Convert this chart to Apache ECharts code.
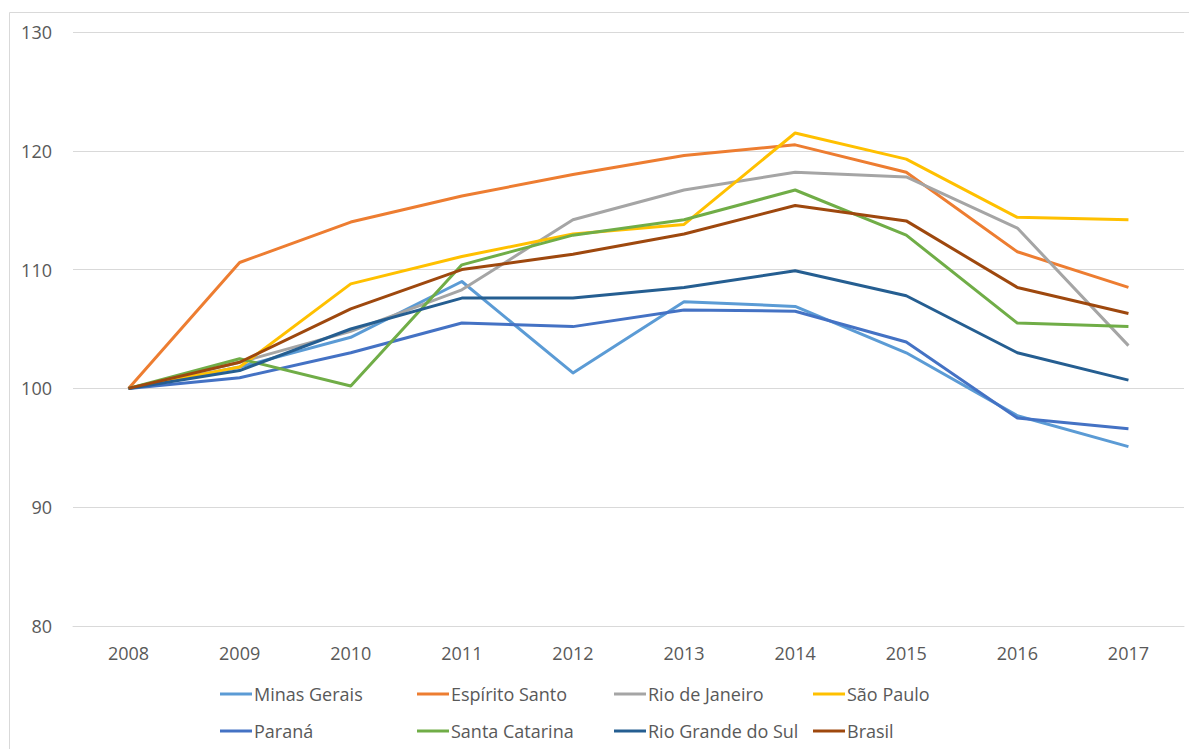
<!DOCTYPE html>
<html>
<head>
<meta charset="utf-8">
<script src="https://cdn.jsdelivr.net/npm/echarts@6/dist/echarts.min.js"></script>
<style>
  html, body { margin: 0; padding: 0; background: #fff; }
  #chart { width: 1189px; height: 749px; }
</style>
</head>
<body>
<div id="chart"></div>
<script>
(function() {
  var years = ['2008', '2009', '2010', '2011', '2012', '2013', '2014', '2015', '2016', '2017'];

  var minasGerais     = [100, 101.8, 104.3, 109.0, 101.3, 107.3, 106.9, 103.0, 97.7, 95.1];
  var espiritoSanto   = [100, 110.6, 114.0, 116.2, 118.0, 119.6, 120.5, 118.2, 111.5, 108.5];
  var rioDeJaneiro    = [100, 102.2, 104.8, 108.3, 114.2, 116.7, 118.2, 117.8, 113.5, 103.6];
  var saoPaulo        = [100, 101.8, 108.8, 111.1, 113.0, 113.8, 121.5, 119.3, 114.4, 114.2];
  var parana          = [100, 100.9, 103.0, 105.5, 105.2, 106.6, 106.5, 103.9, 97.5, 96.6];
  var santaCatarina   = [100, 102.5, 100.2, 110.4, 112.9, 114.2, 116.7, 112.9, 105.5, 105.2];
  var rioGrandeDoSul  = [100, 101.5, 105.0, 107.6, 107.6, 108.5, 109.9, 107.8, 103.0, 100.7];
  var brasil          = [100, 102.2, 106.7, 110.0, 111.3, 113.0, 115.4, 114.1, 108.5, 106.3];

  var seriesNames = ['Minas Gerais', 'Espírito Santo', 'Rio de Janeiro', 'São Paulo',
                     'Paraná', 'Santa Catarina', 'Rio Grande do Sul', 'Brasil'];
  var seriesData = [minasGerais, espiritoSanto, rioDeJaneiro, saoPaulo,
                    parana, santaCatarina, rioGrandeDoSul, brasil];
  var colors = ['#5B9BD5', '#ED7D31', '#A5A5A5', '#FFC000',
                '#4472C4', '#70AD47', '#255E91', '#9E480E'];

  var yTicks = [80, 90, 100, 110, 120, 130];

  var fontFamily = '"Open Sans", "Noto Sans", sans-serif';
  var textColor = '#595959';
  var gridColor = '#D9D9D9';

  // legend laid out as a 4x2 table like the Excel original
  var legendCols = [215, 412, 609, 808];
  var legendRows = [680, 717];
  var legends = seriesNames.map(function(name, i) {
    return {
      data: [name],
      left: legendCols[i % 4],
      top: legendRows[Math.floor(i / 4)],
      icon: 'rect',
      itemWidth: 32,
      itemHeight: 3,
      selectedMode: false,
      textStyle: { color: textColor, fontSize: 18, fontFamily: fontFamily, padding: [0, 0, 0, -3] }
    };
  });

  var chart = echarts.init(document.getElementById('chart'), null, { renderer: 'svg' });
  chart.setOption({
    animation: false,
    backgroundColor: '#fff',
    color: colors,
    graphic: [{
      type: 'rect',
      shape: { x: 9.5, y: 12.5, width: 1200, height: 800 },
      style: { fill: 'none', stroke: gridColor, lineWidth: 1 },
      silent: true
    }],
    legend: legends,
    grid: { left: 73, right: 5, top: 32, bottom: 123 },
    xAxis: {
      type: 'category',
      data: years,
      boundaryGap: true,
      axisLine: { show: true, lineStyle: { color: gridColor, width: 1 } },
      axisTick: { show: false },
      axisLabel: { color: textColor, fontSize: 18, fontFamily: fontFamily, margin: 18 }
    },
    yAxis: {
      type: 'value',
      min: yTicks[0],
      max: yTicks[yTicks.length - 1],
      interval: 10,
      axisLine: { show: false },
      axisTick: { show: false },
      axisLabel: { color: textColor, fontSize: 18, fontFamily: fontFamily, margin: 21 },
      splitLine: { lineStyle: { color: gridColor, width: 1 } }
    },
    series: seriesNames.map(function(name, i) {
      return {
        name: name,
        type: 'line',
        data: seriesData[i],
        symbol: 'none',
        lineStyle: { width: 3, color: colors[i], join: 'round' },
        itemStyle: { color: colors[i] }
      };
    })
  });
})();
</script>
</body>
</html>
